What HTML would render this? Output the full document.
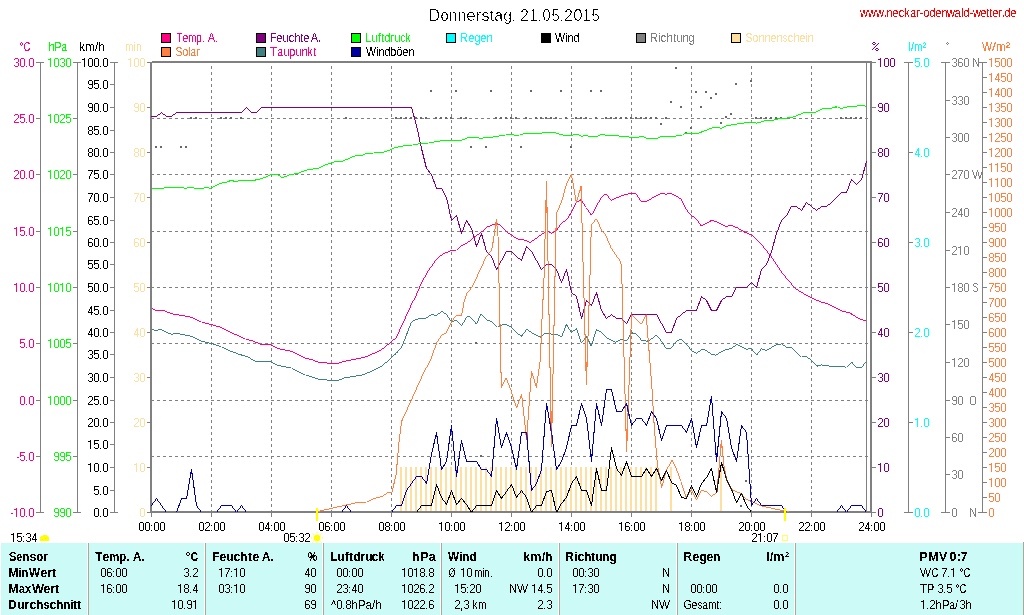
<!DOCTYPE html>
<html><head><meta charset="utf-8"><title>Donnerstag, 21.05.2015</title>
<style>html,body{margin:0;padding:0;background:#fff;overflow:hidden}svg{display:block;font-family:"Liberation Sans",sans-serif;font-size:12px}.c{shape-rendering:crispEdges}.l polyline{shape-rendering:crispEdges;stroke-linejoin:miter}</style>
</head><body>
<svg width="1024" height="615" viewBox="0 0 1024 615">
<rect width="1024" height="615" fill="#fff"/>
<filter id="tl" x="140" y="55" width="740" height="465" filterUnits="userSpaceOnUse" color-interpolation-filters="sRGB"><feComponentTransfer><feFuncA type="linear" slope="255" intercept="-124.95"/></feComponentTransfer></filter>
<g class="c">
<rect x="161" y="33" width="10" height="10" fill="#000"/>
<rect x="162" y="34" width="8" height="8" fill="#FF0080"/>
<rect x="161" y="47" width="10" height="10" fill="#000"/>
<rect x="162" y="48" width="8" height="8" fill="#FF8040"/>
<rect x="256" y="33" width="10" height="10" fill="#000"/>
<rect x="257" y="34" width="8" height="8" fill="#800080"/>
<rect x="256" y="47" width="10" height="10" fill="#000"/>
<rect x="257" y="48" width="8" height="8" fill="#408080"/>
<rect x="351" y="33" width="10" height="10" fill="#000"/>
<rect x="352" y="34" width="8" height="8" fill="#00FF00"/>
<rect x="351" y="47" width="10" height="10" fill="#000"/>
<rect x="352" y="48" width="8" height="8" fill="#0000A0"/>
<rect x="446" y="33" width="10" height="10" fill="#000"/>
<rect x="447" y="34" width="8" height="8" fill="#00FFFF"/>
<rect x="541" y="33" width="10" height="10" fill="#000"/>
<rect x="542" y="34" width="8" height="8" fill="#000000"/>
<rect x="636" y="33" width="10" height="10" fill="#000"/>
<rect x="637" y="34" width="8" height="8" fill="#808080"/>
<rect x="731" y="33" width="10" height="10" fill="#000"/>
<rect x="732" y="34" width="8" height="8" fill="#FFDF9F"/>
</g>
<g class="c">
<rect x="40" y="62" width="1" height="451" fill="#808080"/>
<rect x="36" y="62" width="8" height="1" fill="#808080"/>
<rect x="36" y="62" width="4" height="1" fill="#808080"/>
<rect x="36" y="118" width="4" height="1" fill="#808080"/>
<rect x="36" y="174" width="4" height="1" fill="#808080"/>
<rect x="36" y="231" width="4" height="1" fill="#808080"/>
<rect x="36" y="287" width="4" height="1" fill="#808080"/>
<rect x="36" y="343" width="4" height="1" fill="#808080"/>
<rect x="36" y="400" width="4" height="1" fill="#808080"/>
<rect x="36" y="456" width="4" height="1" fill="#808080"/>
<rect x="36" y="512" width="4" height="1" fill="#808080"/>
<rect x="77" y="62" width="1" height="451" fill="#808080"/>
<rect x="73" y="62" width="8" height="1" fill="#808080"/>
<rect x="73" y="62" width="4" height="1" fill="#808080"/>
<rect x="73" y="118" width="4" height="1" fill="#808080"/>
<rect x="73" y="174" width="4" height="1" fill="#808080"/>
<rect x="73" y="231" width="4" height="1" fill="#808080"/>
<rect x="73" y="287" width="4" height="1" fill="#808080"/>
<rect x="73" y="343" width="4" height="1" fill="#808080"/>
<rect x="73" y="400" width="4" height="1" fill="#808080"/>
<rect x="73" y="456" width="4" height="1" fill="#808080"/>
<rect x="73" y="512" width="4" height="1" fill="#808080"/>
<rect x="114" y="62" width="1" height="451" fill="#808080"/>
<rect x="110" y="62" width="8" height="1" fill="#808080"/>
<rect x="110" y="62" width="4" height="1" fill="#808080"/>
<rect x="110" y="84" width="4" height="1" fill="#808080"/>
<rect x="110" y="107" width="4" height="1" fill="#808080"/>
<rect x="110" y="130" width="4" height="1" fill="#808080"/>
<rect x="110" y="152" width="4" height="1" fill="#808080"/>
<rect x="110" y="174" width="4" height="1" fill="#808080"/>
<rect x="110" y="197" width="4" height="1" fill="#808080"/>
<rect x="110" y="220" width="4" height="1" fill="#808080"/>
<rect x="110" y="242" width="4" height="1" fill="#808080"/>
<rect x="110" y="264" width="4" height="1" fill="#808080"/>
<rect x="110" y="287" width="4" height="1" fill="#808080"/>
<rect x="110" y="310" width="4" height="1" fill="#808080"/>
<rect x="110" y="332" width="4" height="1" fill="#808080"/>
<rect x="110" y="354" width="4" height="1" fill="#808080"/>
<rect x="110" y="377" width="4" height="1" fill="#808080"/>
<rect x="110" y="400" width="4" height="1" fill="#808080"/>
<rect x="110" y="422" width="4" height="1" fill="#808080"/>
<rect x="110" y="444" width="4" height="1" fill="#808080"/>
<rect x="110" y="467" width="4" height="1" fill="#808080"/>
<rect x="110" y="490" width="4" height="1" fill="#808080"/>
<rect x="110" y="512" width="4" height="1" fill="#808080"/>
<rect x="36" y="512" width="8" height="1" fill="#808080"/>
<rect x="73" y="512" width="8" height="1" fill="#808080"/>
<rect x="110" y="512" width="8" height="1" fill="#808080"/>
<rect x="147" y="62" width="3" height="1" fill="#808080"/>
<rect x="147" y="107" width="3" height="1" fill="#808080"/>
<rect x="147" y="152" width="3" height="1" fill="#808080"/>
<rect x="147" y="197" width="3" height="1" fill="#808080"/>
<rect x="147" y="242" width="3" height="1" fill="#808080"/>
<rect x="147" y="287" width="3" height="1" fill="#808080"/>
<rect x="147" y="332" width="3" height="1" fill="#808080"/>
<rect x="147" y="377" width="3" height="1" fill="#808080"/>
<rect x="147" y="422" width="3" height="1" fill="#808080"/>
<rect x="147" y="467" width="3" height="1" fill="#808080"/>
<rect x="147" y="512" width="3" height="1" fill="#808080"/>
</g>
<g class="c">
<rect x="872" y="62" width="4" height="1" fill="#808080"/>
<rect x="872" y="107" width="4" height="1" fill="#808080"/>
<rect x="872" y="152" width="4" height="1" fill="#808080"/>
<rect x="872" y="197" width="4" height="1" fill="#808080"/>
<rect x="872" y="242" width="4" height="1" fill="#808080"/>
<rect x="872" y="287" width="4" height="1" fill="#808080"/>
<rect x="872" y="332" width="4" height="1" fill="#808080"/>
<rect x="872" y="377" width="4" height="1" fill="#808080"/>
<rect x="872" y="422" width="4" height="1" fill="#808080"/>
<rect x="872" y="467" width="4" height="1" fill="#808080"/>
<rect x="872" y="512" width="4" height="1" fill="#808080"/>
<rect x="908" y="62" width="1" height="451" fill="#808080"/>
<rect x="904" y="62" width="9" height="1" fill="#808080"/>
<rect x="908" y="62" width="5" height="1" fill="#808080"/>
<rect x="908" y="152" width="5" height="1" fill="#808080"/>
<rect x="908" y="242" width="5" height="1" fill="#808080"/>
<rect x="908" y="332" width="5" height="1" fill="#808080"/>
<rect x="908" y="422" width="5" height="1" fill="#808080"/>
<rect x="908" y="512" width="5" height="1" fill="#808080"/>
<rect x="945" y="62" width="1" height="451" fill="#808080"/>
<rect x="941" y="62" width="9" height="1" fill="#808080"/>
<rect x="945" y="62" width="5" height="1" fill="#808080"/>
<rect x="945" y="100" width="5" height="1" fill="#808080"/>
<rect x="945" y="137" width="5" height="1" fill="#808080"/>
<rect x="945" y="174" width="5" height="1" fill="#808080"/>
<rect x="945" y="212" width="5" height="1" fill="#808080"/>
<rect x="945" y="250" width="5" height="1" fill="#808080"/>
<rect x="945" y="287" width="5" height="1" fill="#808080"/>
<rect x="945" y="324" width="5" height="1" fill="#808080"/>
<rect x="945" y="362" width="5" height="1" fill="#808080"/>
<rect x="945" y="400" width="5" height="1" fill="#808080"/>
<rect x="945" y="437" width="5" height="1" fill="#808080"/>
<rect x="945" y="474" width="5" height="1" fill="#808080"/>
<rect x="945" y="512" width="5" height="1" fill="#808080"/>
<rect x="982" y="62" width="1" height="451" fill="#808080"/>
<rect x="978" y="62" width="9" height="1" fill="#808080"/>
<rect x="982" y="62" width="5" height="1" fill="#808080"/>
<rect x="982" y="77" width="5" height="1" fill="#808080"/>
<rect x="982" y="92" width="5" height="1" fill="#808080"/>
<rect x="982" y="107" width="5" height="1" fill="#808080"/>
<rect x="982" y="122" width="5" height="1" fill="#808080"/>
<rect x="982" y="137" width="5" height="1" fill="#808080"/>
<rect x="982" y="152" width="5" height="1" fill="#808080"/>
<rect x="982" y="167" width="5" height="1" fill="#808080"/>
<rect x="982" y="182" width="5" height="1" fill="#808080"/>
<rect x="982" y="197" width="5" height="1" fill="#808080"/>
<rect x="982" y="212" width="5" height="1" fill="#808080"/>
<rect x="982" y="227" width="5" height="1" fill="#808080"/>
<rect x="982" y="242" width="5" height="1" fill="#808080"/>
<rect x="982" y="257" width="5" height="1" fill="#808080"/>
<rect x="982" y="272" width="5" height="1" fill="#808080"/>
<rect x="982" y="287" width="5" height="1" fill="#808080"/>
<rect x="982" y="302" width="5" height="1" fill="#808080"/>
<rect x="982" y="317" width="5" height="1" fill="#808080"/>
<rect x="982" y="332" width="5" height="1" fill="#808080"/>
<rect x="982" y="347" width="5" height="1" fill="#808080"/>
<rect x="982" y="362" width="5" height="1" fill="#808080"/>
<rect x="982" y="377" width="5" height="1" fill="#808080"/>
<rect x="982" y="392" width="5" height="1" fill="#808080"/>
<rect x="982" y="407" width="5" height="1" fill="#808080"/>
<rect x="982" y="422" width="5" height="1" fill="#808080"/>
<rect x="982" y="437" width="5" height="1" fill="#808080"/>
<rect x="982" y="452" width="5" height="1" fill="#808080"/>
<rect x="982" y="467" width="5" height="1" fill="#808080"/>
<rect x="982" y="482" width="5" height="1" fill="#808080"/>
<rect x="982" y="497" width="5" height="1" fill="#808080"/>
<rect x="982" y="512" width="5" height="1" fill="#808080"/>
<rect x="904" y="512" width="9" height="1" fill="#808080"/>
<rect x="941" y="512" width="9" height="1" fill="#808080"/>
<rect x="978" y="512" width="9" height="1" fill="#808080"/>
</g>
<g class="c">
<line x1="151" y1="118.5" x2="870" y2="118.5" stroke="#808080" stroke-width="1" stroke-dasharray="3,3"/>
<line x1="151" y1="174.5" x2="870" y2="174.5" stroke="#808080" stroke-width="1" stroke-dasharray="3,3"/>
<line x1="151" y1="231.5" x2="870" y2="231.5" stroke="#808080" stroke-width="1" stroke-dasharray="3,3"/>
<line x1="151" y1="287.5" x2="870" y2="287.5" stroke="#808080" stroke-width="1" stroke-dasharray="3,3"/>
<line x1="151" y1="343.5" x2="870" y2="343.5" stroke="#808080" stroke-width="1" stroke-dasharray="3,3"/>
<line x1="151" y1="400.5" x2="870" y2="400.5" stroke="#808080" stroke-width="1" stroke-dasharray="3,3"/>
<line x1="151" y1="456.5" x2="870" y2="456.5" stroke="#808080" stroke-width="1" stroke-dasharray="3,3"/>
<line x1="211.5" y1="66" x2="211.5" y2="511" stroke="#808080" stroke-width="1" stroke-dasharray="3,3"/>
<line x1="271.5" y1="66" x2="271.5" y2="511" stroke="#808080" stroke-width="1" stroke-dasharray="3,3"/>
<line x1="331.5" y1="66" x2="331.5" y2="511" stroke="#808080" stroke-width="1" stroke-dasharray="3,3"/>
<line x1="391.5" y1="66" x2="391.5" y2="511" stroke="#808080" stroke-width="1" stroke-dasharray="3,3"/>
<line x1="451.5" y1="66" x2="451.5" y2="511" stroke="#808080" stroke-width="1" stroke-dasharray="3,3"/>
<line x1="511.5" y1="66" x2="511.5" y2="511" stroke="#808080" stroke-width="1" stroke-dasharray="3,3"/>
<line x1="571.5" y1="66" x2="571.5" y2="511" stroke="#808080" stroke-width="1" stroke-dasharray="3,3"/>
<line x1="631.5" y1="66" x2="631.5" y2="511" stroke="#808080" stroke-width="1" stroke-dasharray="3,3"/>
<line x1="691.5" y1="66" x2="691.5" y2="511" stroke="#808080" stroke-width="1" stroke-dasharray="3,3"/>
<line x1="751.5" y1="66" x2="751.5" y2="511" stroke="#808080" stroke-width="1" stroke-dasharray="3,3"/>
<line x1="811.5" y1="66" x2="811.5" y2="511" stroke="#808080" stroke-width="1" stroke-dasharray="3,3"/>
<rect x="400" y="467" width="2" height="44" fill="#FFDF9F"/>
<rect x="405" y="467" width="2" height="44" fill="#FFDF9F"/>
<rect x="410" y="467" width="2" height="44" fill="#FFDF9F"/>
<rect x="415" y="467" width="2" height="44" fill="#FFDF9F"/>
<rect x="420" y="467" width="2" height="44" fill="#FFDF9F"/>
<rect x="425" y="467" width="2" height="44" fill="#FFDF9F"/>
<rect x="430" y="467" width="2" height="44" fill="#FFDF9F"/>
<rect x="435" y="467" width="2" height="44" fill="#FFDF9F"/>
<rect x="440" y="467" width="2" height="44" fill="#FFDF9F"/>
<rect x="445" y="467" width="2" height="44" fill="#FFDF9F"/>
<rect x="450" y="467" width="2" height="44" fill="#FFDF9F"/>
<rect x="455" y="467" width="2" height="44" fill="#FFDF9F"/>
<rect x="460" y="467" width="2" height="44" fill="#FFDF9F"/>
<rect x="465" y="467" width="2" height="44" fill="#FFDF9F"/>
<rect x="470" y="467" width="2" height="44" fill="#FFDF9F"/>
<rect x="475" y="467" width="2" height="44" fill="#FFDF9F"/>
<rect x="480" y="467" width="2" height="44" fill="#FFDF9F"/>
<rect x="485" y="467" width="2" height="44" fill="#FFDF9F"/>
<rect x="490" y="467" width="2" height="44" fill="#FFDF9F"/>
<rect x="495" y="467" width="2" height="44" fill="#FFDF9F"/>
<rect x="500" y="467" width="2" height="44" fill="#FFDF9F"/>
<rect x="505" y="467" width="2" height="44" fill="#FFDF9F"/>
<rect x="510" y="467" width="2" height="44" fill="#FFDF9F"/>
<rect x="515" y="467" width="2" height="44" fill="#FFDF9F"/>
<rect x="520" y="467" width="2" height="44" fill="#FFDF9F"/>
<rect x="525" y="467" width="2" height="44" fill="#FFDF9F"/>
<rect x="530" y="467" width="2" height="44" fill="#FFDF9F"/>
<rect x="535" y="467" width="2" height="44" fill="#FFDF9F"/>
<rect x="540" y="467" width="2" height="44" fill="#FFDF9F"/>
<rect x="545" y="467" width="2" height="44" fill="#FFDF9F"/>
<rect x="550" y="467" width="2" height="44" fill="#FFDF9F"/>
<rect x="555" y="467" width="2" height="44" fill="#FFDF9F"/>
<rect x="560" y="467" width="2" height="44" fill="#FFDF9F"/>
<rect x="565" y="467" width="2" height="44" fill="#FFDF9F"/>
<rect x="570" y="467" width="2" height="44" fill="#FFDF9F"/>
<rect x="575" y="467" width="2" height="44" fill="#FFDF9F"/>
<rect x="580" y="467" width="2" height="44" fill="#FFDF9F"/>
<rect x="585" y="467" width="2" height="44" fill="#FFDF9F"/>
<rect x="590" y="467" width="2" height="44" fill="#FFDF9F"/>
<rect x="595" y="467" width="2" height="44" fill="#FFDF9F"/>
<rect x="600" y="467" width="2" height="44" fill="#FFDF9F"/>
<rect x="605" y="467" width="2" height="44" fill="#FFDF9F"/>
<rect x="610" y="467" width="2" height="44" fill="#FFDF9F"/>
<rect x="615" y="467" width="2" height="44" fill="#FFDF9F"/>
<rect x="620" y="467" width="2" height="44" fill="#FFDF9F"/>
<rect x="625" y="467" width="2" height="44" fill="#FFDF9F"/>
<rect x="630" y="467" width="2" height="44" fill="#FFDF9F"/>
<rect x="635" y="467" width="2" height="44" fill="#FFDF9F"/>
<rect x="640" y="467" width="2" height="44" fill="#FFDF9F"/>
<rect x="645" y="467" width="2" height="44" fill="#FFDF9F"/>
<rect x="650" y="467" width="2" height="44" fill="#FFDF9F"/>
<rect x="655" y="467" width="2" height="44" fill="#FFDF9F"/>
<rect x="670" y="467" width="2" height="44" fill="#FFDF9F"/>
<rect x="720" y="467" width="2" height="44" fill="#FFDF9F"/>
<rect x="155" y="146" width="2" height="2" fill="#686868"/>
<rect x="160" y="146" width="2" height="2" fill="#686868"/>
<rect x="180" y="146" width="2" height="2" fill="#686868"/>
<rect x="185" y="146" width="2" height="2" fill="#686868"/>
<rect x="470" y="146" width="2" height="2" fill="#686868"/>
<rect x="485" y="146" width="2" height="2" fill="#686868"/>
<rect x="520" y="146" width="2" height="2" fill="#686868"/>
<rect x="570" y="146" width="2" height="2" fill="#686868"/>
<rect x="430" y="90" width="2" height="2" fill="#686868"/>
<rect x="455" y="90" width="2" height="2" fill="#686868"/>
<rect x="490" y="90" width="2" height="2" fill="#686868"/>
<rect x="530" y="90" width="2" height="2" fill="#686868"/>
<rect x="560" y="90" width="2" height="2" fill="#686868"/>
<rect x="590" y="90" width="2" height="2" fill="#686868"/>
<rect x="600" y="90" width="2" height="2" fill="#686868"/>
<rect x="695" y="91" width="2" height="2" fill="#686868"/>
<rect x="705" y="91" width="2" height="2" fill="#686868"/>
<rect x="675" y="67" width="2" height="2" fill="#686868"/>
<rect x="670" y="101" width="2" height="2" fill="#686868"/>
<rect x="680" y="106" width="2" height="2" fill="#686868"/>
<rect x="660" y="123" width="2" height="2" fill="#686868"/>
<rect x="690" y="127" width="2" height="2" fill="#686868"/>
<rect x="685" y="132" width="2" height="2" fill="#686868"/>
<rect x="700" y="106" width="2" height="2" fill="#686868"/>
<rect x="710" y="97" width="2" height="2" fill="#686868"/>
<rect x="715" y="93" width="2" height="2" fill="#686868"/>
<rect x="735" y="83" width="2" height="2" fill="#686868"/>
<rect x="750" y="80" width="2" height="2" fill="#686868"/>
<rect x="720" y="122" width="2" height="2" fill="#686868"/>
<rect x="725" y="116" width="2" height="2" fill="#686868"/>
<rect x="730" y="113" width="2" height="2" fill="#686868"/>
<rect x="475" y="342" width="2" height="2" fill="#686868"/>
<rect x="480" y="455" width="2" height="2" fill="#686868"/>
<rect x="745" y="480" width="2" height="2" fill="#686868"/>
<rect x="740" y="505" width="2" height="2" fill="#686868"/>
<rect x="190" y="117" width="2" height="2" fill="#686868"/>
<rect x="195" y="117" width="2" height="2" fill="#686868"/>
<rect x="220" y="117" width="2" height="2" fill="#686868"/>
<rect x="225" y="117" width="2" height="2" fill="#686868"/>
<rect x="230" y="117" width="2" height="2" fill="#686868"/>
<rect x="240" y="117" width="2" height="2" fill="#686868"/>
<rect x="345" y="117" width="2" height="2" fill="#686868"/>
<rect x="395" y="117" width="2" height="2" fill="#686868"/>
<rect x="400" y="117" width="2" height="2" fill="#686868"/>
<rect x="405" y="117" width="2" height="2" fill="#686868"/>
<rect x="410" y="117" width="2" height="2" fill="#686868"/>
<rect x="415" y="117" width="2" height="2" fill="#686868"/>
<rect x="420" y="117" width="2" height="2" fill="#686868"/>
<rect x="425" y="117" width="2" height="2" fill="#686868"/>
<rect x="435" y="117" width="2" height="2" fill="#686868"/>
<rect x="440" y="117" width="2" height="2" fill="#686868"/>
<rect x="445" y="117" width="2" height="2" fill="#686868"/>
<rect x="450" y="117" width="2" height="2" fill="#686868"/>
<rect x="460" y="117" width="2" height="2" fill="#686868"/>
<rect x="465" y="117" width="2" height="2" fill="#686868"/>
<rect x="495" y="117" width="2" height="2" fill="#686868"/>
<rect x="500" y="117" width="2" height="2" fill="#686868"/>
<rect x="505" y="117" width="2" height="2" fill="#686868"/>
<rect x="510" y="117" width="2" height="2" fill="#686868"/>
<rect x="515" y="117" width="2" height="2" fill="#686868"/>
<rect x="525" y="117" width="2" height="2" fill="#686868"/>
<rect x="535" y="117" width="2" height="2" fill="#686868"/>
<rect x="540" y="117" width="2" height="2" fill="#686868"/>
<rect x="545" y="117" width="2" height="2" fill="#686868"/>
<rect x="550" y="117" width="2" height="2" fill="#686868"/>
<rect x="555" y="117" width="2" height="2" fill="#686868"/>
<rect x="565" y="117" width="2" height="2" fill="#686868"/>
<rect x="575" y="117" width="2" height="2" fill="#686868"/>
<rect x="580" y="117" width="2" height="2" fill="#686868"/>
<rect x="585" y="117" width="2" height="2" fill="#686868"/>
<rect x="595" y="117" width="2" height="2" fill="#686868"/>
<rect x="605" y="117" width="2" height="2" fill="#686868"/>
<rect x="610" y="117" width="2" height="2" fill="#686868"/>
<rect x="615" y="117" width="2" height="2" fill="#686868"/>
<rect x="620" y="117" width="2" height="2" fill="#686868"/>
<rect x="625" y="117" width="2" height="2" fill="#686868"/>
<rect x="630" y="117" width="2" height="2" fill="#686868"/>
<rect x="635" y="117" width="2" height="2" fill="#686868"/>
<rect x="640" y="117" width="2" height="2" fill="#686868"/>
<rect x="645" y="117" width="2" height="2" fill="#686868"/>
<rect x="650" y="117" width="2" height="2" fill="#686868"/>
<rect x="655" y="117" width="2" height="2" fill="#686868"/>
<rect x="665" y="117" width="2" height="2" fill="#686868"/>
<rect x="755" y="117" width="2" height="2" fill="#686868"/>
<rect x="760" y="117" width="2" height="2" fill="#686868"/>
<rect x="765" y="117" width="2" height="2" fill="#686868"/>
<rect x="770" y="117" width="2" height="2" fill="#686868"/>
<rect x="775" y="117" width="2" height="2" fill="#686868"/>
<rect x="780" y="117" width="2" height="2" fill="#686868"/>
<rect x="840" y="117" width="2" height="2" fill="#686868"/>
<rect x="845" y="117" width="2" height="2" fill="#686868"/>
<rect x="850" y="117" width="2" height="2" fill="#686868"/>
<rect x="855" y="117" width="2" height="2" fill="#686868"/>
<rect x="860" y="117" width="2" height="2" fill="#686868"/>
</g>
<g class="c">
<rect x="150" y="62" width="2" height="451" fill="#808080"/>
<rect x="152" y="61" width="720" height="2" fill="#808080"/>
<rect x="150" y="511" width="722" height="2" fill="#808080"/>
<rect x="866" y="63" width="1" height="448" fill="#808080"/>
<rect x="870" y="61" width="2" height="452" fill="#808080"/>
</g>
<clipPath id="cp"><rect x="151" y="63" width="719" height="449"/></clipPath>
<g clip-path="url(#cp)">
<g filter="url(#tl)" fill="none" stroke-width="1" stroke-linejoin="round">
<polyline points="151.5,116.5 156.5,116.5 161.5,112.5 166.5,116.5 171.5,116.5 176.5,112.5 181.5,112.5 186.5,112.5 191.5,112.5 196.5,112.5 201.5,112.5 206.5,112.5 211.5,112.5 216.5,112.5 221.5,112.5 226.5,112.5 231.5,112.5 236.5,112.5 241.5,112.5 246.5,107.5 251.5,112.5 256.5,112.5 261.5,107.5 266.5,107.5 271.5,107.5 276.5,107.5 281.5,107.5 286.5,107.5 291.5,107.5 296.5,107.5 301.5,107.5 306.5,107.5 311.5,107.5 316.5,107.5 321.5,107.5 326.5,107.5 331.5,107.5 336.5,107.5 341.5,107.5 346.5,107.5 351.5,107.5 356.5,107.5 361.5,107.5 366.5,107.5 371.5,107.5 376.5,107.5 381.5,107.5 386.5,107.5 391.5,107.5 396.5,107.5 401.5,107.5 406.5,107.5 411.5,107.5 416.5,125.5 421.5,148.5 426.5,168.5 431.5,174.5 436.5,188.5 441.5,188.5 446.5,197.5 451.5,220.5 456.5,215.5 461.5,233.5 466.5,220.5 471.5,228.5 476.5,246.5 481.5,233.5 486.5,251.5 491.5,256.5 496.5,269.5 501.5,260.5 506.5,251.5 511.5,251.5 516.5,256.5 521.5,260.5 526.5,246.5 531.5,251.5 536.5,260.5 541.5,269.5 546.5,264.5 551.5,264.5 556.5,269.5 561.5,282.5 566.5,269.5 571.5,292.5 576.5,296.5 581.5,318.5 586.5,300.5 591.5,305.5 596.5,292.5 601.5,310.5 606.5,318.5 611.5,314.5 616.5,318.5 621.5,318.5 626.5,323.5 631.5,314.5 636.5,314.5 641.5,314.5 646.5,314.5 651.5,314.5 656.5,314.5 661.5,323.5 666.5,332.5 671.5,332.5 676.5,318.5 681.5,314.5 686.5,310.5 691.5,310.5 696.5,310.5 701.5,296.5 706.5,300.5 711.5,310.5 716.5,310.5 721.5,300.5 726.5,296.5 731.5,296.5 736.5,287.5 741.5,287.5 746.5,287.5 751.5,282.5 756.5,287.5 761.5,269.5 766.5,264.5 771.5,251.5 776.5,233.5 781.5,220.5 786.5,215.5 791.5,206.5 796.5,206.5 801.5,210.5 806.5,202.5 811.5,206.5 816.5,210.5 821.5,206.5 826.5,206.5 831.5,202.5 836.5,197.5 841.5,192.5 846.5,192.5 851.5,179.5 856.5,184.5 861.5,179.5 866.5,161.5" fill="none" stroke="#800080" stroke-width="1"/>
<polyline points="151.6,188.4 163.3,188.4 164.8,187.3 182.8,187.3 185.2,188.4 189.8,187.3 192.5,187.3 195.3,188.4 203.1,188.4 205.5,187.3 208.0,187.3 210.2,188.4 212.5,187.3 220.3,183.4 226.6,182.2 230.5,180.6 232.5,180.6 235.2,181.7 239.8,180.6 253.1,180.6 262.5,178.3 271.9,174.4 277.3,174.4 282.0,177.5 286.7,176.4 290.6,174.4 296.9,173.6 300.0,172.5 307.8,169.8 318.8,168.1 326.6,164.4 335.9,161.3 342.2,161.3 356.3,155.3 362.5,155.3 365.6,153.4 373.4,153.0 383.6,152.2 389.0,150.3 395.3,147.5 404.7,145.6 412.5,145.0 420.3,143.6 428.1,143.1 435.9,141.6 443.9,140.4 461.9,140.2 466.6,138.1 470.5,137.3 477.5,137.3 480.6,138.6 485.3,137.3 493.1,137.0 499.4,135.9 505.6,135.0 511.0,134.1 515.0,135.5 519.7,135.0 525.2,133.4 540.0,133.3 545.5,132.3 553.3,132.3 560.3,134.4 565.0,135.5 572.0,135.5 575.2,134.4 577.5,134.4 581.4,136.4 586.1,135.5 590.0,136.4 597.0,136.4 601.0,134.4 603.4,134.4 605.6,135.5 618.1,135.5 620.5,136.4 627.5,136.4 630.6,137.5 638.4,137.2 640.8,136.4 643.0,136.4 646.3,138.3 657.2,138.3 661.1,136.4 674.4,136.4 677.5,135.5 682.2,135.2 685.3,133.3 697.8,133.3 700.0,132.6 711.1,128.2 717.1,127.3 721.4,128.4 725.6,126.1 734.2,124.4 751.3,121.9 756.4,123.2 765.8,120.5 773.5,120.2 780.3,118.5 788.9,117.9 794.0,116.7 804.3,112.5 816.2,112.1 823.9,108.2 831.6,108.2 835.0,107.0 837.6,107.0 841.0,108.5 849.5,106.5 856.4,106.2 860.7,105.3 863.2,105.3 865.8,106.5" fill="none" stroke="#00FF00" stroke-width="1"/>
<polyline points="151.8,308.5 155.7,310.4 164.5,310.8 171.4,313.7 191.9,317.3 201.6,322.1 211.4,324.7 221.2,327.4 231.0,332.5 245.6,339.1 252.4,340.7 260.2,344.2 270.0,344.6 277.8,348.5 291.5,351.4 305.2,358.3 311.0,359.4 318.8,362.2 330.5,363.3 338.4,363.3 345.0,361.2 354.8,359.2 364.5,357.3 372.3,354.0 381.1,350.1 389.0,343.6 396.2,337.8 401.6,326.0 411.4,304.6 416.3,295.1 422.1,281.5 429.0,269.8 436.8,259.0 442.7,254.1 451.4,250.6 456.3,250.2 462.2,245.3 468.0,242.4 473.9,237.5 481.7,231.7 487.6,226.8 496.4,223.5 501.3,225.8 506.1,231.7 511.0,234.6 516.9,238.9 522.7,239.5 530.5,242.4 544.2,232.6 546.5,231.0 551.8,233.3 556.7,230.4 561.6,223.1 566.5,219.8 571.4,212.4 576.3,202.6 581.1,199.7 586.0,207.5 591.5,215.3 596.8,205.6 601.6,196.8 605.9,193.9 611.4,200.3 621.2,195.8 631.0,193.3 635.8,193.3 641.1,201.3 646.6,201.3 656.3,195.8 661.8,193.3 666.0,194.2 671.0,193.3 680.7,198.7 685.6,208.5 691.0,215.3 696.4,218.7 701.3,226.0 712.0,220.2 720.8,223.7 725.7,226.5 731.5,225.1 738.4,228.4 745.0,232.3 751.4,234.8 761.1,244.1 771.3,256.8 781.6,272.4 792.4,285.1 795.3,288.7 807.0,295.5 820.7,302.0 826.6,303.3 842.2,311.2 850.0,313.1 859.8,319.0 866.0,320.9" fill="none" stroke="#FF0080" stroke-width="1"/>
<polyline points="151.8,329.4 155.7,330.5 160.6,329.4 171.4,334.4 176.3,333.3 191.9,336.4 201.6,341.3 211.4,343.6 221.2,346.9 231.0,351.4 240.7,354.8 246.6,356.3 255.4,361.2 269.0,361.2 277.8,365.5 291.5,368.0 305.2,374.9 318.8,379.2 330.5,380.3 338.4,380.3 345.0,377.8 354.8,376.2 362.6,374.9 372.3,371.0 381.1,366.5 389.0,360.2 396.2,353.4 401.6,347.5 406.5,334.8 411.4,322.1 416.3,319.2 426.0,318.2 431.9,314.3 436.4,315.7 441.7,311.4 446.6,314.3 451.4,322.1 456.3,320.2 461.6,326.0 467.0,316.3 471.0,317.3 476.3,324.1 481.3,313.7 486.6,320.2 491.5,321.5 497.3,327.0 502.2,324.7 506.1,324.7 511.0,326.6 515.9,332.5 521.8,336.2 526.6,329.4 531.5,332.5 540.3,337.2 545.0,333.0 552.8,334.4 556.7,334.4 561.6,336.7 566.5,324.2 571.4,332.8 576.3,328.5 581.5,343.1 586.4,336.3 591.3,346.1 596.4,329.5 601.6,332.4 606.5,337.9 615.3,342.2 622.1,339.2 626.6,341.2 631.5,332.8 636.4,333.8 641.7,340.6 648.5,341.2 656.3,335.3 661.6,341.2 666.5,349.0 671.4,348.0 676.3,341.2 681.1,339.2 686.6,344.1 691.5,351.0 696.4,353.3 702.2,349.4 706.1,350.4 711.0,353.9 715.9,355.3 720.8,351.9 725.7,349.6 730.9,348.7 736.7,344.4 746.5,349.2 751.4,348.7 756.6,355.1 761.5,348.7 766.0,350.6 776.8,344.4 781.6,344.0 786.5,347.3 791.4,347.3 801.6,357.1 806.0,356.1 811.0,360.0 816.8,366.2 821.7,364.9 830.5,366.2 842.2,366.2 846.1,367.4 851.6,362.0 856.3,367.4 861.7,367.4 866.0,361.4" fill="none" stroke="#408080" stroke-width="1"/>
<polyline points="317.5,511.5 345.0,505.3 354.8,503.0 366.5,502.0 374.3,498.5 382.1,496.6 387.0,493.0 391.9,492.7 396.2,474.0 398.7,444.8 401.6,421.4 411.4,400.0 423.1,373.9 430.9,359.2 436.8,342.6 441.1,335.8 446.2,332.9 451.4,322.1 456.3,315.3 461.6,315.3 464.1,301.6 467.1,292.8 472.0,287.3 485.6,258.0 491.5,250.2 493.4,240.5 496.4,219.0 498.0,236.5 498.7,269.8 499.3,296.0 500.3,336.8 501.3,387.6 506.1,377.8 511.0,390.5 516.5,408.0 521.6,394.4 526.6,440.0 531.5,371.0 536.4,387.6 540.3,360.2 542.3,311.4 543.8,286.0 546.5,181.0 551.5,447.0 556.3,214.0 561.6,201.7 566.5,184.0 571.4,174.0 576.3,202.6 581.1,186.0 582.5,243.7 586.4,385.0 590.3,266.0 591.3,225.0 596.4,218.7 601.6,230.0 606.0,235.8 611.4,248.5 620.2,261.2 621.5,266.0 626.6,452.0 631.5,314.8 641.1,324.2 646.2,314.8 651.8,386.0 654.4,429.0 657.3,464.0 661.6,487.6 666.5,470.0 672.0,460.2 676.8,470.0 681.1,481.7 686.0,497.3 691.5,489.5 696.4,500.3 701.3,490.5 706.1,491.5 711.6,496.4 716.9,492.4 721.4,439.7 723.7,464.0 726.6,479.8 731.5,489.5 737.4,492.4 741.3,493.4 745.0,498.3 751.4,501.5 761.1,505.8 771.9,508.3 781.6,510.3 789.5,511.6" fill="none" stroke="#FF8040" stroke-width="1"/>
<polyline points="151.5,505.5 156.5,498.5 161.5,505.5 166.5,512.5 171.5,512.5 176.5,512.5 181.5,498.5 186.5,498.5 191.5,469.5 196.5,505.5 201.5,512.5 206.5,512.5 211.5,512.5 216.5,512.5 221.5,505.5 226.5,505.5 231.5,505.5 236.5,512.5 241.5,505.5 246.5,512.5 251.5,512.5 256.5,512.5 261.5,512.5 266.5,512.5 271.5,512.5 276.5,512.5 281.5,512.5 286.5,512.5 291.5,512.5 296.5,512.5 301.5,512.5 306.5,512.5 311.5,512.5 316.5,512.5 321.5,512.5 326.5,512.5 331.5,512.5 336.5,512.5 341.5,512.5 346.5,505.5 351.5,512.5 356.5,512.5 361.5,512.5 366.5,512.5 371.5,512.5 376.5,512.5 381.5,512.5 386.5,512.5 391.5,512.5 396.5,505.5 401.5,505.5 406.5,490.5 411.5,483.5 416.5,476.5 421.5,476.5 426.5,483.5 431.5,454.5 436.5,432.5 441.5,469.5 446.5,461.5 451.5,425.5 456.5,476.5 461.5,440.5 466.5,461.5 471.5,461.5 476.5,461.5 481.5,469.5 486.5,469.5 491.5,476.5 496.5,418.5 501.5,447.5 506.5,432.5 511.5,447.5 516.5,469.5 521.5,432.5 526.5,432.5 531.5,490.5 536.5,483.5 541.5,469.5 546.5,403.5 551.5,432.5 556.5,469.5 561.5,461.5 566.5,447.5 571.5,425.5 576.5,425.5 581.5,403.5 586.5,418.5 591.5,461.5 596.5,403.5 601.5,425.5 606.5,389.5 611.5,389.5 616.5,411.5 621.5,411.5 626.5,403.5 631.5,425.5 636.5,418.5 641.5,418.5 646.5,425.5 651.5,411.5 656.5,418.5 661.5,440.5 666.5,425.5 671.5,425.5 676.5,425.5 681.5,425.5 686.5,432.5 691.5,418.5 696.5,447.5 701.5,425.5 706.5,425.5 711.5,396.5 716.5,461.5 721.5,411.5 726.5,418.5 731.5,447.5 736.5,461.5 741.5,425.5 746.5,432.5 751.5,505.5 756.5,498.5 761.5,505.5 766.5,505.5 771.5,505.5 776.5,505.5 781.5,505.5 786.5,512.5 791.5,512.5 796.5,512.5 801.5,512.5 806.5,512.5 811.5,512.5 816.5,512.5 821.5,512.5 826.5,512.5 831.5,512.5 836.5,512.5 841.5,505.5 846.5,512.5 851.5,505.5 856.5,505.5 861.5,505.5 866.5,512.5" fill="none" stroke="#0000A0" stroke-width="1"/>
<polyline points="416.5,512.5 421.5,505.5 426.5,505.5 431.5,505.5 436.5,484.5 441.5,497.5 446.5,504.5 451.5,490.5 456.5,504.5 461.5,498.5 466.5,504.5 471.5,512.5 476.5,505.5 481.5,505.5 486.5,505.5 491.5,505.5 496.5,490.5 501.5,498.5 506.5,491.5 511.5,484.5 516.5,497.5 521.5,490.5 526.5,497.5 531.5,512.5 536.5,505.5 541.5,505.5 546.5,491.5 551.5,490.5 556.5,512.5 561.5,503.5 566.5,497.5 571.5,483.5 576.5,476.5 581.5,490.5 586.5,490.5 591.5,505.5 596.5,468.5 601.5,490.5 606.5,490.5 611.5,447.5 616.5,468.5 621.5,475.5 626.5,461.5 631.5,476.5 636.5,476.5 641.5,476.5 646.5,468.5 651.5,476.5 656.5,468.5 661.5,480.5 666.5,470.5 671.5,482.5 676.5,485.5 681.5,497.5 686.5,498.5 691.5,485.5 696.5,496.5 701.5,483.5 706.5,477.5 711.5,468.5 716.5,492.5 721.5,462.5 726.5,479.5 731.5,489.5 736.5,502.5 741.5,493.5 746.5,505.5 751.5,512.5" fill="none" stroke="#000000" stroke-width="1"/>
</g>
</g>
<g class="c">
<rect x="151" y="513" width="1" height="4" fill="#808080"/>
<rect x="211" y="513" width="1" height="4" fill="#808080"/>
<rect x="271" y="513" width="1" height="4" fill="#808080"/>
<rect x="331" y="513" width="1" height="4" fill="#808080"/>
<rect x="391" y="513" width="1" height="4" fill="#808080"/>
<rect x="451" y="513" width="1" height="4" fill="#808080"/>
<rect x="511" y="513" width="1" height="4" fill="#808080"/>
<rect x="571" y="513" width="1" height="4" fill="#808080"/>
<rect x="631" y="513" width="1" height="4" fill="#808080"/>
<rect x="691" y="513" width="1" height="4" fill="#808080"/>
<rect x="751" y="513" width="1" height="4" fill="#808080"/>
<rect x="811" y="513" width="1" height="4" fill="#808080"/>
<rect x="871" y="513" width="1" height="4" fill="#808080"/>
<rect x="316" y="508" width="2" height="13" fill="#FFFF00"/>
<rect x="784" y="508" width="2" height="13" fill="#FFFF00"/>
</g>
<g class="c" fill="#FFFF00"><rect x="43" y="535" width="4" height="1"/><rect x="41" y="536" width="7" height="1"/><rect x="40" y="537" width="9" height="4"/><rect x="42" y="539" width="1" height="1" fill="#FFE040"/><rect x="45" y="538" width="1" height="1" fill="#FFE040"/></g>
<g class="c" fill="#FFFFC4"><rect x="314" y="534" width="6" height="1"/><rect x="314" y="541" width="6" height="1"/><rect x="313" y="535" width="1" height="6"/><rect x="320" y="535" width="1" height="6"/></g>
<g class="c" fill="#FFFF90"><rect x="313" y="534" width="1" height="1"/><rect x="320" y="534" width="1" height="1"/><rect x="313" y="541" width="1" height="1"/><rect x="320" y="541" width="1" height="1"/><rect x="316" y="532" width="2" height="1"/><rect x="316" y="542" width="2" height="1"/><rect x="311" y="537" width="1" height="2"/><rect x="322" y="537" width="1" height="2"/><rect x="312" y="533" width="1" height="1"/><rect x="321" y="533" width="1" height="1"/><rect x="312" y="542" width="1" height="1"/><rect x="321" y="542" width="1" height="1"/></g>
<g class="c" fill="#FFFF00"><rect x="314" y="536" width="6" height="4"/><rect x="315" y="535" width="4" height="6"/></g>
<rect class="c" x="782.5" y="535.5" width="5" height="5" fill="none" stroke="#FFFF60" stroke-width="1"/>
<g class="c">
<rect x="1" y="543" width="1022" height="72" fill="#CCFAF7"/>
<rect x="87" y="543" width="1" height="72" fill="#FFFFFF"/>
<rect x="88" y="543" width="1" height="72" fill="#ACA899"/>
<rect x="204" y="543" width="1" height="72" fill="#FFFFFF"/>
<rect x="205" y="543" width="1" height="72" fill="#ACA899"/>
<rect x="322" y="543" width="1" height="72" fill="#FFFFFF"/>
<rect x="323" y="543" width="1" height="72" fill="#ACA899"/>
<rect x="440" y="543" width="1" height="72" fill="#FFFFFF"/>
<rect x="441" y="543" width="1" height="72" fill="#ACA899"/>
<rect x="558" y="543" width="1" height="72" fill="#FFFFFF"/>
<rect x="559" y="543" width="1" height="72" fill="#ACA899"/>
<rect x="676" y="543" width="1" height="72" fill="#FFFFFF"/>
<rect x="677" y="543" width="1" height="72" fill="#ACA899"/>
<rect x="794" y="543" width="1" height="72" fill="#FFFFFF"/>
<rect x="795" y="543" width="1" height="72" fill="#ACA899"/>
<rect x="1023" y="542" width="1" height="73" fill="#ACA899"/>
</g>
<defs><filter id="t" x="0" y="0" width="1024" height="615" filterUnits="userSpaceOnUse" color-interpolation-filters="sRGB"><feComponentTransfer><feFuncA type="linear" slope="255" intercept="-119.85"/></feComponentTransfer></filter></defs>
<filter id="t2" x="400" y="0" width="230" height="30" filterUnits="userSpaceOnUse" color-interpolation-filters="sRGB"><feComponentTransfer><feFuncR type="linear" slope="255" intercept="-170"/><feFuncG type="linear" slope="255" intercept="-170"/><feFuncB type="linear" slope="255" intercept="-170"/><feFuncA type="linear" slope="255" intercept="-100"/></feComponentTransfer></filter>
<defs><path id="g0" d="M2,-9h3v1h-3zM2,-1h3v1h-3zM1,-8h1v7h-1zM5,-8h1v7h-1z"/><path id="g1" d="M1,-8h3v1h-3zM3,-9h1v1h-1zM3,-7h1v7h-1z"/><path id="g2" d="M2,-9h3v1h-3zM1,-1h5v1h-5zM1,-8h1v1h-1zM1,-2h1v1h-1zM2,-3h1v1h-1zM3,-4h1v1h-1zM4,-5h1v1h-1zM5,-8h1v3h-1z"/><path id="g3" d="M2,-9h3v1h-3zM3,-5h2v1h-2zM2,-1h3v1h-3zM1,-8h1v1h-1zM1,-2h1v1h-1zM5,-8h1v3h-1zM5,-4h1v3h-1z"/><path id="g4" d="M3,-8h2v1h-2zM3,-7h2v1h-2zM1,-3h5v1h-5zM1,-4h1v1h-1zM2,-6h1v2h-1zM4,-9h1v1h-1zM4,-6h1v3h-1zM4,-2h1v2h-1z"/><path id="g5" d="M1,-9h5v1h-5zM1,-6h4v1h-4zM2,-1h3v1h-3zM1,-8h1v2h-1zM1,-5h1v1h-1zM1,-2h1v1h-1zM5,-5h1v4h-1z"/><path id="g6" d="M2,-9h3v1h-3zM1,-5h4v1h-4zM2,-1h3v1h-3zM1,-8h1v3h-1zM1,-4h1v3h-1zM5,-8h1v1h-1zM5,-4h1v3h-1z"/><path id="g7" d="M1,-9h5v1h-5zM2,-3h1v3h-1zM3,-5h1v2h-1zM4,-7h1v2h-1zM5,-8h1v1h-1z"/><path id="g8" d="M2,-9h3v1h-3zM2,-5h3v1h-3zM2,-1h3v1h-3zM1,-8h1v3h-1zM1,-4h1v3h-1zM5,-8h1v3h-1zM5,-4h1v3h-1z"/><path id="g9" d="M2,-9h3v1h-3zM2,-5h4v1h-4zM2,-1h3v1h-3zM1,-8h1v3h-1zM1,-2h1v1h-1zM5,-8h1v3h-1zM5,-4h1v3h-1z"/><path id="gp" d="M1,-1h1v1h-1z"/><path id="gc" d="M1,-6h1v1h-1zM1,-1h1v1h-1z"/><path id="gm" d="M1,-4h2v1h-2z"/><path id="gk" d="M1,-1h1v3h-1z"/><path id="gq" d="M2,-9h2v1h-2zM2,-7h2v1h-2zM5,-3h2v1h-2zM5,-1h2v1h-2zM1,-8h1v1h-1zM1,-2h1v1h-1zM2,-3h1v1h-1zM3,-4h1v1h-1zM4,-8h1v1h-1zM4,-5h1v1h-1zM4,-2h1v1h-1zM5,-6h1v1h-1zM6,-7h1v1h-1zM7,-8h1v1h-1zM7,-2h1v1h-1z"/><path id="gd" d="M1,-8h1v1h-1zM2,-9h1v1h-1zM2,-7h1v1h-1zM3,-8h1v1h-1z"/><path id="gN" d="M1,-8h2v1h-2zM5,-3h2v1h-2zM5,-2h2v1h-2zM1,-9h1v1h-1zM1,-7h1v7h-1zM3,-7h1v2h-1zM4,-5h1v2h-1zM6,-9h1v6h-1zM6,-1h1v1h-1z"/><path id="gW" d="M2,-3h2v1h-2zM7,-3h2v1h-2zM2,-2h2v1h-2zM7,-2h2v1h-2zM0,-9h1v2h-1zM1,-7h1v3h-1zM2,-4h1v1h-1zM3,-1h1v1h-1zM4,-7h1v4h-1zM5,-9h1v2h-1zM6,-7h1v4h-1zM7,-1h1v1h-1zM8,-4h1v1h-1zM9,-7h1v3h-1zM10,-9h1v2h-1z"/><path id="gS" d="M2,-9h3v1h-3zM2,-6h2v1h-2zM2,-1h3v1h-3zM1,-8h1v2h-1zM1,-2h1v1h-1zM4,-5h1v1h-1zM5,-8h1v1h-1zM5,-4h1v3h-1z"/><path id="gO" d="M2,-9h4v1h-4zM2,-1h4v1h-4zM1,-8h1v7h-1zM6,-8h1v7h-1z"/></defs>
<g class="c">
<g fill="#FF0080" transform="translate(13,67)"><use href="#g3"/><use href="#g0" x="6"/><use href="#gp" x="12"/><use href="#g0" x="15"/></g>
<g fill="#00FF00" transform="translate(47,67)"><use href="#g1"/><use href="#g0" x="6"/><use href="#g3" x="12"/><use href="#g0" x="18"/></g>
<g fill="#FF0080" transform="translate(13,123)"><use href="#g2"/><use href="#g5" x="6"/><use href="#gp" x="12"/><use href="#g0" x="15"/></g>
<g fill="#00FF00" transform="translate(47,123)"><use href="#g1"/><use href="#g0" x="6"/><use href="#g2" x="12"/><use href="#g5" x="18"/></g>
<g fill="#FF0080" transform="translate(13,179)"><use href="#g2"/><use href="#g0" x="6"/><use href="#gp" x="12"/><use href="#g0" x="15"/></g>
<g fill="#00FF00" transform="translate(47,179)"><use href="#g1"/><use href="#g0" x="6"/><use href="#g2" x="12"/><use href="#g0" x="18"/></g>
<g fill="#FF0080" transform="translate(13,236)"><use href="#g1"/><use href="#g5" x="6"/><use href="#gp" x="12"/><use href="#g0" x="15"/></g>
<g fill="#00FF00" transform="translate(47,236)"><use href="#g1"/><use href="#g0" x="6"/><use href="#g1" x="12"/><use href="#g5" x="18"/></g>
<g fill="#FF0080" transform="translate(13,292)"><use href="#g1"/><use href="#g0" x="6"/><use href="#gp" x="12"/><use href="#g0" x="15"/></g>
<g fill="#00FF00" transform="translate(47,292)"><use href="#g1"/><use href="#g0" x="6"/><use href="#g1" x="12"/><use href="#g0" x="18"/></g>
<g fill="#FF0080" transform="translate(19,348)"><use href="#g5"/><use href="#gp" x="6"/><use href="#g0" x="9"/></g>
<g fill="#00FF00" transform="translate(47,348)"><use href="#g1"/><use href="#g0" x="6"/><use href="#g0" x="12"/><use href="#g5" x="18"/></g>
<g fill="#FF0080" transform="translate(19,405)"><use href="#g0"/><use href="#gp" x="6"/><use href="#g0" x="9"/></g>
<g fill="#00FF00" transform="translate(47,405)"><use href="#g1"/><use href="#g0" x="6"/><use href="#g0" x="12"/><use href="#g0" x="18"/></g>
<g fill="#FF0080" transform="translate(16,461)"><use href="#gm"/><use href="#g5" x="3"/><use href="#gp" x="9"/><use href="#g0" x="12"/></g>
<g fill="#00FF00" transform="translate(53,461)"><use href="#g9"/><use href="#g9" x="6"/><use href="#g5" x="12"/></g>
<g fill="#FF0080" transform="translate(10,517)"><use href="#gm"/><use href="#g1" x="3"/><use href="#g0" x="9"/><use href="#gp" x="15"/><use href="#g0" x="18"/></g>
<g fill="#00FF00" transform="translate(53,517)"><use href="#g9"/><use href="#g9" x="6"/><use href="#g0" x="12"/></g>
<g fill="#000000" transform="translate(81,67)"><use href="#g1"/><use href="#g0" x="6"/><use href="#g0" x="12"/><use href="#gp" x="18"/><use href="#g0" x="21"/></g>
<g fill="#000000" transform="translate(87,89)"><use href="#g9"/><use href="#g5" x="6"/><use href="#gp" x="12"/><use href="#g0" x="15"/></g>
<g fill="#000000" transform="translate(87,112)"><use href="#g9"/><use href="#g0" x="6"/><use href="#gp" x="12"/><use href="#g0" x="15"/></g>
<g fill="#000000" transform="translate(87,135)"><use href="#g8"/><use href="#g5" x="6"/><use href="#gp" x="12"/><use href="#g0" x="15"/></g>
<g fill="#000000" transform="translate(87,157)"><use href="#g8"/><use href="#g0" x="6"/><use href="#gp" x="12"/><use href="#g0" x="15"/></g>
<g fill="#000000" transform="translate(87,179)"><use href="#g7"/><use href="#g5" x="6"/><use href="#gp" x="12"/><use href="#g0" x="15"/></g>
<g fill="#000000" transform="translate(87,202)"><use href="#g7"/><use href="#g0" x="6"/><use href="#gp" x="12"/><use href="#g0" x="15"/></g>
<g fill="#000000" transform="translate(87,225)"><use href="#g6"/><use href="#g5" x="6"/><use href="#gp" x="12"/><use href="#g0" x="15"/></g>
<g fill="#000000" transform="translate(87,247)"><use href="#g6"/><use href="#g0" x="6"/><use href="#gp" x="12"/><use href="#g0" x="15"/></g>
<g fill="#000000" transform="translate(87,269)"><use href="#g5"/><use href="#g5" x="6"/><use href="#gp" x="12"/><use href="#g0" x="15"/></g>
<g fill="#000000" transform="translate(87,292)"><use href="#g5"/><use href="#g0" x="6"/><use href="#gp" x="12"/><use href="#g0" x="15"/></g>
<g fill="#000000" transform="translate(87,315)"><use href="#g4"/><use href="#g5" x="6"/><use href="#gp" x="12"/><use href="#g0" x="15"/></g>
<g fill="#000000" transform="translate(87,337)"><use href="#g4"/><use href="#g0" x="6"/><use href="#gp" x="12"/><use href="#g0" x="15"/></g>
<g fill="#000000" transform="translate(87,359)"><use href="#g3"/><use href="#g5" x="6"/><use href="#gp" x="12"/><use href="#g0" x="15"/></g>
<g fill="#000000" transform="translate(87,382)"><use href="#g3"/><use href="#g0" x="6"/><use href="#gp" x="12"/><use href="#g0" x="15"/></g>
<g fill="#000000" transform="translate(87,405)"><use href="#g2"/><use href="#g5" x="6"/><use href="#gp" x="12"/><use href="#g0" x="15"/></g>
<g fill="#000000" transform="translate(87,427)"><use href="#g2"/><use href="#g0" x="6"/><use href="#gp" x="12"/><use href="#g0" x="15"/></g>
<g fill="#000000" transform="translate(87,449)"><use href="#g1"/><use href="#g5" x="6"/><use href="#gp" x="12"/><use href="#g0" x="15"/></g>
<g fill="#000000" transform="translate(87,472)"><use href="#g1"/><use href="#g0" x="6"/><use href="#gp" x="12"/><use href="#g0" x="15"/></g>
<g fill="#000000" transform="translate(93,495)"><use href="#g5"/><use href="#gp" x="6"/><use href="#g0" x="9"/></g>
<g fill="#000000" transform="translate(93,517)"><use href="#g0"/><use href="#gp" x="6"/><use href="#g0" x="9"/></g>
<g fill="#FFDF9F" transform="translate(127,67)"><use href="#g1"/><use href="#g0" x="6"/><use href="#g0" x="12"/></g>
<g fill="#FFDF9F" transform="translate(133,112)"><use href="#g9"/><use href="#g0" x="6"/></g>
<g fill="#FFDF9F" transform="translate(133,157)"><use href="#g8"/><use href="#g0" x="6"/></g>
<g fill="#FFDF9F" transform="translate(133,202)"><use href="#g7"/><use href="#g0" x="6"/></g>
<g fill="#FFDF9F" transform="translate(133,247)"><use href="#g6"/><use href="#g0" x="6"/></g>
<g fill="#FFDF9F" transform="translate(133,292)"><use href="#g5"/><use href="#g0" x="6"/></g>
<g fill="#FFDF9F" transform="translate(133,337)"><use href="#g4"/><use href="#g0" x="6"/></g>
<g fill="#FFDF9F" transform="translate(133,382)"><use href="#g3"/><use href="#g0" x="6"/></g>
<g fill="#FFDF9F" transform="translate(133,427)"><use href="#g2"/><use href="#g0" x="6"/></g>
<g fill="#FFDF9F" transform="translate(133,472)"><use href="#g1"/><use href="#g0" x="6"/></g>
<g fill="#FFDF9F" transform="translate(139,517)"><use href="#g0"/></g>
<g fill="#800080" transform="translate(871,51)"><use href="#gq"/></g>
<g fill="#808080" transform="translate(945,51)"><use href="#gd"/></g>
<g fill="#800080" transform="translate(877,67)"><use href="#g1"/><use href="#g0" x="6"/><use href="#g0" x="12"/></g>
<g fill="#800080" transform="translate(877,112)"><use href="#g9"/><use href="#g0" x="6"/></g>
<g fill="#800080" transform="translate(877,157)"><use href="#g8"/><use href="#g0" x="6"/></g>
<g fill="#800080" transform="translate(877,202)"><use href="#g7"/><use href="#g0" x="6"/></g>
<g fill="#800080" transform="translate(877,247)"><use href="#g6"/><use href="#g0" x="6"/></g>
<g fill="#800080" transform="translate(877,292)"><use href="#g5"/><use href="#g0" x="6"/></g>
<g fill="#800080" transform="translate(877,337)"><use href="#g4"/><use href="#g0" x="6"/></g>
<g fill="#800080" transform="translate(877,382)"><use href="#g3"/><use href="#g0" x="6"/></g>
<g fill="#800080" transform="translate(877,427)"><use href="#g2"/><use href="#g0" x="6"/></g>
<g fill="#800080" transform="translate(877,472)"><use href="#g1"/><use href="#g0" x="6"/></g>
<g fill="#800080" transform="translate(877,517)"><use href="#g0"/></g>
<g fill="#00FFFF" transform="translate(914,67)"><use href="#g5"/><use href="#gp" x="6"/><use href="#g0" x="9"/></g>
<g fill="#00FFFF" transform="translate(914,157)"><use href="#g4"/><use href="#gp" x="6"/><use href="#g0" x="9"/></g>
<g fill="#00FFFF" transform="translate(914,247)"><use href="#g3"/><use href="#gp" x="6"/><use href="#g0" x="9"/></g>
<g fill="#00FFFF" transform="translate(914,337)"><use href="#g2"/><use href="#gp" x="6"/><use href="#g0" x="9"/></g>
<g fill="#00FFFF" transform="translate(914,427)"><use href="#g1"/><use href="#gp" x="6"/><use href="#g0" x="9"/></g>
<g fill="#00FFFF" transform="translate(914,517)"><use href="#g0"/><use href="#gp" x="6"/><use href="#g0" x="9"/></g>
<g fill="#808080" transform="translate(951,67)"><use href="#g3"/><use href="#g6" x="6"/><use href="#g0" x="12"/></g>
<g fill="#808080" transform="translate(972,67)"><use href="#gN"/></g>
<g fill="#808080" transform="translate(951,105)"><use href="#g3"/><use href="#g3" x="6"/><use href="#g0" x="12"/></g>
<g fill="#808080" transform="translate(951,142)"><use href="#g3"/><use href="#g0" x="6"/><use href="#g0" x="12"/></g>
<g fill="#808080" transform="translate(951,179)"><use href="#g2"/><use href="#g7" x="6"/><use href="#g0" x="12"/></g>
<g fill="#808080" transform="translate(972,179)"><use href="#gW"/></g>
<g fill="#808080" transform="translate(951,217)"><use href="#g2"/><use href="#g4" x="6"/><use href="#g0" x="12"/></g>
<g fill="#808080" transform="translate(951,255)"><use href="#g2"/><use href="#g1" x="6"/><use href="#g0" x="12"/></g>
<g fill="#808080" transform="translate(951,292)"><use href="#g1"/><use href="#g8" x="6"/><use href="#g0" x="12"/></g>
<g fill="#808080" transform="translate(972,292)"><use href="#gS"/></g>
<g fill="#808080" transform="translate(951,329)"><use href="#g1"/><use href="#g5" x="6"/><use href="#g0" x="12"/></g>
<g fill="#808080" transform="translate(951,367)"><use href="#g1"/><use href="#g2" x="6"/><use href="#g0" x="12"/></g>
<g fill="#808080" transform="translate(951,405)"><use href="#g9"/><use href="#g0" x="6"/></g>
<g fill="#808080" transform="translate(969,405)"><use href="#gO"/></g>
<g fill="#808080" transform="translate(951,442)"><use href="#g6"/><use href="#g0" x="6"/></g>
<g fill="#808080" transform="translate(951,479)"><use href="#g3"/><use href="#g0" x="6"/></g>
<g fill="#808080" transform="translate(951,517)"><use href="#g0"/></g>
<g fill="#808080" transform="translate(969,517)"><use href="#gN"/></g>
<g fill="#FF8040" transform="translate(988,67)"><use href="#g1"/><use href="#g5" x="6"/><use href="#g0" x="12"/><use href="#g0" x="18"/></g>
<g fill="#FF8040" transform="translate(988,82)"><use href="#g1"/><use href="#g4" x="6"/><use href="#g5" x="12"/><use href="#g0" x="18"/></g>
<g fill="#FF8040" transform="translate(988,97)"><use href="#g1"/><use href="#g4" x="6"/><use href="#g0" x="12"/><use href="#g0" x="18"/></g>
<g fill="#FF8040" transform="translate(988,112)"><use href="#g1"/><use href="#g3" x="6"/><use href="#g5" x="12"/><use href="#g0" x="18"/></g>
<g fill="#FF8040" transform="translate(988,127)"><use href="#g1"/><use href="#g3" x="6"/><use href="#g0" x="12"/><use href="#g0" x="18"/></g>
<g fill="#FF8040" transform="translate(988,142)"><use href="#g1"/><use href="#g2" x="6"/><use href="#g5" x="12"/><use href="#g0" x="18"/></g>
<g fill="#FF8040" transform="translate(988,157)"><use href="#g1"/><use href="#g2" x="6"/><use href="#g0" x="12"/><use href="#g0" x="18"/></g>
<g fill="#FF8040" transform="translate(988,172)"><use href="#g1"/><use href="#g1" x="6"/><use href="#g5" x="12"/><use href="#g0" x="18"/></g>
<g fill="#FF8040" transform="translate(988,187)"><use href="#g1"/><use href="#g1" x="6"/><use href="#g0" x="12"/><use href="#g0" x="18"/></g>
<g fill="#FF8040" transform="translate(988,202)"><use href="#g1"/><use href="#g0" x="6"/><use href="#g5" x="12"/><use href="#g0" x="18"/></g>
<g fill="#FF8040" transform="translate(988,217)"><use href="#g1"/><use href="#g0" x="6"/><use href="#g0" x="12"/><use href="#g0" x="18"/></g>
<g fill="#FF8040" transform="translate(988,232)"><use href="#g9"/><use href="#g5" x="6"/><use href="#g0" x="12"/></g>
<g fill="#FF8040" transform="translate(988,247)"><use href="#g9"/><use href="#g0" x="6"/><use href="#g0" x="12"/></g>
<g fill="#FF8040" transform="translate(988,262)"><use href="#g8"/><use href="#g5" x="6"/><use href="#g0" x="12"/></g>
<g fill="#FF8040" transform="translate(988,277)"><use href="#g8"/><use href="#g0" x="6"/><use href="#g0" x="12"/></g>
<g fill="#FF8040" transform="translate(988,292)"><use href="#g7"/><use href="#g5" x="6"/><use href="#g0" x="12"/></g>
<g fill="#FF8040" transform="translate(988,307)"><use href="#g7"/><use href="#g0" x="6"/><use href="#g0" x="12"/></g>
<g fill="#FF8040" transform="translate(988,322)"><use href="#g6"/><use href="#g5" x="6"/><use href="#g0" x="12"/></g>
<g fill="#FF8040" transform="translate(988,337)"><use href="#g6"/><use href="#g0" x="6"/><use href="#g0" x="12"/></g>
<g fill="#FF8040" transform="translate(988,352)"><use href="#g5"/><use href="#g5" x="6"/><use href="#g0" x="12"/></g>
<g fill="#FF8040" transform="translate(988,367)"><use href="#g5"/><use href="#g0" x="6"/><use href="#g0" x="12"/></g>
<g fill="#FF8040" transform="translate(988,382)"><use href="#g4"/><use href="#g5" x="6"/><use href="#g0" x="12"/></g>
<g fill="#FF8040" transform="translate(988,397)"><use href="#g4"/><use href="#g0" x="6"/><use href="#g0" x="12"/></g>
<g fill="#FF8040" transform="translate(988,412)"><use href="#g3"/><use href="#g5" x="6"/><use href="#g0" x="12"/></g>
<g fill="#FF8040" transform="translate(988,427)"><use href="#g3"/><use href="#g0" x="6"/><use href="#g0" x="12"/></g>
<g fill="#FF8040" transform="translate(988,442)"><use href="#g2"/><use href="#g5" x="6"/><use href="#g0" x="12"/></g>
<g fill="#FF8040" transform="translate(988,457)"><use href="#g2"/><use href="#g0" x="6"/><use href="#g0" x="12"/></g>
<g fill="#FF8040" transform="translate(988,472)"><use href="#g1"/><use href="#g5" x="6"/><use href="#g0" x="12"/></g>
<g fill="#FF8040" transform="translate(988,487)"><use href="#g1"/><use href="#g0" x="6"/><use href="#g0" x="12"/></g>
<g fill="#FF8040" transform="translate(988,502)"><use href="#g5"/><use href="#g0" x="6"/></g>
<g fill="#FF8040" transform="translate(988,517)"><use href="#g0"/></g>
<g fill="#000000" transform="translate(138,531)"><use href="#g0"/><use href="#g0" x="6"/><use href="#gc" x="12"/><use href="#g0" x="15"/><use href="#g0" x="21"/></g>
<g fill="#000000" transform="translate(198,531)"><use href="#g0"/><use href="#g2" x="6"/><use href="#gc" x="12"/><use href="#g0" x="15"/><use href="#g0" x="21"/></g>
<g fill="#000000" transform="translate(258,531)"><use href="#g0"/><use href="#g4" x="6"/><use href="#gc" x="12"/><use href="#g0" x="15"/><use href="#g0" x="21"/></g>
<g fill="#000000" transform="translate(318,531)"><use href="#g0"/><use href="#g6" x="6"/><use href="#gc" x="12"/><use href="#g0" x="15"/><use href="#g0" x="21"/></g>
<g fill="#000000" transform="translate(378,531)"><use href="#g0"/><use href="#g8" x="6"/><use href="#gc" x="12"/><use href="#g0" x="15"/><use href="#g0" x="21"/></g>
<g fill="#000000" transform="translate(438,531)"><use href="#g1"/><use href="#g0" x="6"/><use href="#gc" x="12"/><use href="#g0" x="15"/><use href="#g0" x="21"/></g>
<g fill="#000000" transform="translate(498,531)"><use href="#g1"/><use href="#g2" x="6"/><use href="#gc" x="12"/><use href="#g0" x="15"/><use href="#g0" x="21"/></g>
<g fill="#000000" transform="translate(558,531)"><use href="#g1"/><use href="#g4" x="6"/><use href="#gc" x="12"/><use href="#g0" x="15"/><use href="#g0" x="21"/></g>
<g fill="#000000" transform="translate(618,531)"><use href="#g1"/><use href="#g6" x="6"/><use href="#gc" x="12"/><use href="#g0" x="15"/><use href="#g0" x="21"/></g>
<g fill="#000000" transform="translate(678,531)"><use href="#g1"/><use href="#g8" x="6"/><use href="#gc" x="12"/><use href="#g0" x="15"/><use href="#g0" x="21"/></g>
<g fill="#000000" transform="translate(738,531)"><use href="#g2"/><use href="#g0" x="6"/><use href="#gc" x="12"/><use href="#g0" x="15"/><use href="#g0" x="21"/></g>
<g fill="#000000" transform="translate(798,531)"><use href="#g2"/><use href="#g2" x="6"/><use href="#gc" x="12"/><use href="#g0" x="15"/><use href="#g0" x="21"/></g>
<g fill="#000000" transform="translate(858,531)"><use href="#g2"/><use href="#g4" x="6"/><use href="#gc" x="12"/><use href="#g0" x="15"/><use href="#g0" x="21"/></g>
<g fill="#000000" transform="translate(10,542)"><use href="#g1"/><use href="#g5" x="6"/><use href="#gc" x="12"/><use href="#g3" x="15"/><use href="#g4" x="21"/></g>
<g fill="#000000" transform="translate(283,542)"><use href="#g0"/><use href="#g5" x="6"/><use href="#gc" x="12"/><use href="#g3" x="15"/><use href="#g2" x="21"/></g>
<g fill="#000000" transform="translate(751,542)"><use href="#g2"/><use href="#g1" x="6"/><use href="#gc" x="12"/><use href="#g0" x="15"/><use href="#g7" x="21"/></g>
<g fill="#000000" transform="translate(100,577)"><use href="#g0"/><use href="#g6" x="6"/><use href="#gc" x="12"/><use href="#g0" x="15"/><use href="#g0" x="21"/></g>
<g fill="#000000" transform="translate(183,577)"><use href="#g3"/><use href="#gp" x="6"/><use href="#g2" x="9"/></g>
<g fill="#000000" transform="translate(100,593)"><use href="#g1"/><use href="#g6" x="6"/><use href="#gc" x="12"/><use href="#g0" x="15"/><use href="#g0" x="21"/></g>
<g fill="#000000" transform="translate(177,593)"><use href="#g1"/><use href="#g8" x="6"/><use href="#gp" x="12"/><use href="#g4" x="15"/></g>
<g fill="#000000" transform="translate(171,609)"><use href="#g1"/><use href="#g0" x="6"/><use href="#gp" x="12"/><use href="#g9" x="15"/><use href="#g1" x="21"/></g>
<g fill="#000000" transform="translate(218,577)"><use href="#g1"/><use href="#g7" x="6"/><use href="#gc" x="12"/><use href="#g1" x="15"/><use href="#g0" x="21"/></g>
<g fill="#000000" transform="translate(304,577)"><use href="#g4"/><use href="#g0" x="6"/></g>
<g fill="#000000" transform="translate(218,593)"><use href="#g0"/><use href="#g3" x="6"/><use href="#gc" x="12"/><use href="#g1" x="15"/><use href="#g0" x="21"/></g>
<g fill="#000000" transform="translate(304,593)"><use href="#g9"/><use href="#g0" x="6"/></g>
<g fill="#000000" transform="translate(304,609)"><use href="#g6"/><use href="#g9" x="6"/></g>
<g fill="#000000" transform="translate(336,577)"><use href="#g0"/><use href="#g0" x="6"/><use href="#gc" x="12"/><use href="#g0" x="15"/><use href="#g0" x="21"/></g>
<g fill="#000000" transform="translate(401,577)"><use href="#g1"/><use href="#g0" x="6"/><use href="#g1" x="12"/><use href="#g8" x="18"/><use href="#gp" x="24"/><use href="#g8" x="27"/></g>
<g fill="#000000" transform="translate(336,593)"><use href="#g2"/><use href="#g3" x="6"/><use href="#gc" x="12"/><use href="#g4" x="15"/><use href="#g0" x="21"/></g>
<g fill="#000000" transform="translate(401,593)"><use href="#g1"/><use href="#g0" x="6"/><use href="#g2" x="12"/><use href="#g6" x="18"/><use href="#gp" x="24"/><use href="#g2" x="27"/></g>
<g fill="#000000" transform="translate(336,609)"><use href="#g0"/><use href="#gp" x="6"/><use href="#g8" x="9"/></g>
<g fill="#000000" transform="translate(401,609)"><use href="#g1"/><use href="#g0" x="6"/><use href="#g2" x="12"/><use href="#g2" x="18"/><use href="#gp" x="24"/><use href="#g6" x="27"/></g>
<g fill="#000000" transform="translate(460,577)"><use href="#g1"/><use href="#g0" x="6"/></g>
<g fill="#000000" transform="translate(537,577)"><use href="#g0"/><use href="#gp" x="6"/><use href="#g0" x="9"/></g>
<g fill="#000000" transform="translate(454,593)"><use href="#g1"/><use href="#g5" x="6"/><use href="#gc" x="12"/><use href="#g2" x="15"/><use href="#g0" x="21"/></g>
<g fill="#000000" transform="translate(509,593)"><use href="#gN"/><use href="#gW" x="8"/></g>
<g fill="#000000" transform="translate(531,593)"><use href="#g1"/><use href="#g4" x="6"/><use href="#gp" x="12"/><use href="#g5" x="15"/></g>
<g fill="#000000" transform="translate(454,609)"><use href="#g2"/><use href="#gk" x="6"/><use href="#g3" x="9"/></g>
<g fill="#000000" transform="translate(537,609)"><use href="#g2"/><use href="#gp" x="6"/><use href="#g3" x="9"/></g>
<g fill="#000000" transform="translate(572,577)"><use href="#g0"/><use href="#g0" x="6"/><use href="#gc" x="12"/><use href="#g3" x="15"/><use href="#g0" x="21"/></g>
<g fill="#000000" transform="translate(662,577)"><use href="#gN"/></g>
<g fill="#000000" transform="translate(572,593)"><use href="#g1"/><use href="#g7" x="6"/><use href="#gc" x="12"/><use href="#g3" x="15"/><use href="#g0" x="21"/></g>
<g fill="#000000" transform="translate(662,593)"><use href="#gN"/></g>
<g fill="#000000" transform="translate(651,609)"><use href="#gN"/><use href="#gW" x="8"/></g>
<g fill="#000000" transform="translate(690,593)"><use href="#g0"/><use href="#g0" x="6"/><use href="#gc" x="12"/><use href="#g0" x="15"/><use href="#g0" x="21"/></g>
<g fill="#000000" transform="translate(773,593)"><use href="#g0"/><use href="#gp" x="6"/><use href="#g0" x="9"/></g>
<g fill="#000000" transform="translate(773,609)"><use href="#g0"/><use href="#gp" x="6"/><use href="#g0" x="9"/></g>
<g fill="#000000" transform="translate(920,577)"><use href="#gW"/></g>
<g fill="#000000" transform="translate(941,577)"><use href="#g7"/><use href="#gp" x="6"/><use href="#g1" x="9"/></g>
<g fill="#000000" transform="translate(937,593)"><use href="#g3"/><use href="#gp" x="6"/><use href="#g5" x="9"/></g>
<g fill="#000000" transform="translate(920,609)"><use href="#g1"/><use href="#gp" x="6"/><use href="#g2" x="9"/></g>
<g fill="#000000" transform="translate(959,609)"><use href="#g3"/></g>
</g>
<g filter="url(#t)">
<g fill="#FF0000"><text transform="translate(860.02,17) scale(0.918,1.09)">w</text><text transform="translate(868.02,17) scale(0.918,1.09)">w</text><text transform="translate(876.02,17) scale(0.918,1.09)">w</text><text transform="translate(884.02,17) scale(0.892,1.09)">.</text><text transform="translate(886.17,17) scale(1.000,1.09)">n</text><text transform="translate(892.55,17) scale(0.888,1.09)">e</text><text transform="translate(898.51,17) scale(0.966,1.09)">c</text><text transform="translate(904.28,17) scale(0.892,1.09)">k</text><text transform="translate(910.59,17) scale(0.811,1.09)">a</text><text transform="translate(916.26,17) scale(0.892,1.09)">r</text><text transform="translate(919.52,17) scale(0.892,1.09)">-</text><text transform="translate(923.56,17) scale(0.882,1.09)">o</text><text transform="translate(929.53,17) scale(0.927,1.09)">d</text><text transform="translate(935.55,17) scale(0.888,1.09)">e</text><text transform="translate(941.17,17) scale(1.000,1.09)">n</text><text transform="translate(947.02,17) scale(0.918,1.09)">w</text><text transform="translate(954.50,17) scale(0.973,1.09)">a</text><text transform="translate(961.28,17) scale(0.892,1.09)">l</text><text transform="translate(963.53,17) scale(0.927,1.09)">d</text><text transform="translate(969.52,17) scale(0.892,1.09)">-</text><text transform="translate(973.02,17) scale(0.918,1.09)">w</text><text transform="translate(980.55,17) scale(0.888,1.09)">e</text><text transform="translate(986.18,17) scale(0.892,1.09)">t</text><text transform="translate(989.18,17) scale(0.892,1.09)">t</text><text transform="translate(992.55,17) scale(0.888,1.09)">e</text><text transform="translate(998.26,17) scale(0.892,1.09)">r</text><text transform="translate(1002.02,17) scale(0.892,1.09)">.</text><text transform="translate(1004.53,17) scale(0.927,1.09)">d</text><text transform="translate(1010.55,17) scale(0.888,1.09)">e</text></g>
<g fill="#FF0080"><text transform="translate(176.38,42) scale(0.842,1.09)">T</text><text transform="translate(182.55,42) scale(0.888,1.09)">e</text><text transform="translate(188.32,42) scale(0.819,1.09)">m</text><text transform="translate(196.32,42) scale(0.842,1.09)">p</text><text transform="translate(202.08,42) scale(0.842,1.09)">.</text><text transform="translate(207.98,42) scale(0.880,1.09)">A</text><text transform="translate(215.08,42) scale(0.842,1.09)">.</text></g>
<g fill="#FF8040"><text transform="translate(175.53,56) scale(0.869,1.09)">S</text><text transform="translate(182.56,56) scale(0.882,1.09)">o</text><text transform="translate(188.31,56) scale(0.853,1.09)">l</text><text transform="translate(190.59,56) scale(0.811,1.09)">a</text><text transform="translate(196.29,56) scale(0.853,1.09)">r</text></g>
<g fill="#800080"><text transform="translate(270.14,42) scale(0.875,1.09)">F</text><text transform="translate(276.55,42) scale(0.888,1.09)">e</text><text transform="translate(282.22,42) scale(0.998,1.09)">u</text><text transform="translate(288.51,42) scale(0.966,1.09)">c</text><text transform="translate(294.17,42) scale(1.000,1.09)">h</text><text transform="translate(300.20,42) scale(0.875,1.09)">t</text><text transform="translate(303.55,42) scale(0.888,1.09)">e</text><text transform="translate(310.98,42) scale(0.880,1.09)">A</text><text transform="translate(318.04,42) scale(0.875,1.09)">.</text></g>
<g fill="#FF0080"><text transform="translate(270.16,56) scale(0.913,1.09)">T</text><text transform="translate(277.59,56) scale(0.811,1.09)">a</text><text transform="translate(283.22,56) scale(0.998,1.09)">u</text><text transform="translate(289.26,56) scale(0.913,1.09)">p</text><text transform="translate(295.22,56) scale(0.998,1.09)">u</text><text transform="translate(301.17,56) scale(1.000,1.09)">n</text><text transform="translate(307.26,56) scale(0.913,1.09)">k</text><text transform="translate(313.17,56) scale(0.913,1.09)">t</text></g>
<g fill="#00FF00"><text transform="translate(365.11,42) scale(0.904,1.09)">L</text><text transform="translate(371.22,42) scale(0.998,1.09)">u</text><text transform="translate(378.04,42) scale(0.904,1.09)">f</text><text transform="translate(381.17,42) scale(0.904,1.09)">t</text><text transform="translate(384.53,42) scale(0.927,1.09)">d</text><text transform="translate(390.25,42) scale(0.904,1.09)">r</text><text transform="translate(394.22,42) scale(0.998,1.09)">u</text><text transform="translate(400.61,42) scale(0.773,1.09)">c</text><text transform="translate(405.27,42) scale(0.904,1.09)">k</text></g>
<g fill="#000000"><text transform="translate(365.95,56) scale(0.890,1.09)">W</text><text transform="translate(376.27,56) scale(0.907,1.09)">i</text><text transform="translate(378.17,56) scale(1.000,1.09)">n</text><text transform="translate(384.53,56) scale(0.927,1.09)">d</text><text transform="translate(390.27,56) scale(0.907,1.09)">b</text><text transform="translate(396.56,56) scale(0.882,1.09)">ö</text><text transform="translate(402.55,56) scale(0.888,1.09)">e</text><text transform="translate(408.17,56) scale(1.000,1.09)">n</text></g>
<g fill="#00FFFF"><text transform="translate(460.11,42) scale(0.908,1.09)">R</text><text transform="translate(468.55,42) scale(0.888,1.09)">e</text><text transform="translate(474.53,42) scale(0.927,1.09)">g</text><text transform="translate(480.55,42) scale(0.888,1.09)">e</text><text transform="translate(486.17,42) scale(1.000,1.09)">n</text></g>
<g fill="#000000"><text transform="translate(554.95,42) scale(0.890,1.09)">W</text><text transform="translate(565.25,42) scale(0.933,1.09)">i</text><text transform="translate(567.17,42) scale(1.000,1.09)">n</text><text transform="translate(573.53,42) scale(0.927,1.09)">d</text></g>
<g fill="#808080"><text transform="translate(650.10,42) scale(0.912,1.09)">R</text><text transform="translate(658.27,42) scale(0.912,1.09)">i</text><text transform="translate(660.51,42) scale(0.966,1.09)">c</text><text transform="translate(666.17,42) scale(1.000,1.09)">h</text><text transform="translate(673.17,42) scale(0.912,1.09)">t</text><text transform="translate(676.22,42) scale(0.998,1.09)">u</text><text transform="translate(682.17,42) scale(1.000,1.09)">n</text><text transform="translate(688.53,42) scale(0.927,1.09)">g</text></g>
<g fill="#FFDF9F"><text transform="translate(745.53,42) scale(0.869,1.09)">S</text><text transform="translate(752.56,42) scale(0.882,1.09)">o</text><text transform="translate(758.17,42) scale(1.000,1.09)">n</text><text transform="translate(764.17,42) scale(1.000,1.09)">n</text><text transform="translate(770.55,42) scale(0.888,1.09)">e</text><text transform="translate(776.17,42) scale(1.000,1.09)">n</text><text transform="translate(782.74,42) scale(0.764,1.09)">s</text><text transform="translate(787.51,42) scale(0.966,1.09)">c</text><text transform="translate(793.17,42) scale(1.000,1.09)">h</text><text transform="translate(799.55,42) scale(0.888,1.09)">e</text><text transform="translate(805.28,42) scale(0.891,1.09)">i</text><text transform="translate(807.17,42) scale(1.000,1.09)">n</text></g>
<g fill="#FF0080"><text transform="translate(19.45,51) scale(0.772,1.09)">°</text><text transform="translate(23.52,51) scale(0.790,1.09)">C</text></g>
<g fill="#00FF00"><text transform="translate(48.17,51) scale(1.000,1.09)">h</text><text transform="translate(54.13,51) scale(0.885,1.09)">P</text><text transform="translate(61.59,51) scale(0.811,1.09)">a</text></g>
<g fill="#000000"><text transform="translate(79.23,51) scale(0.950,1.09)">k</text><text transform="translate(85.21,51) scale(0.955,1.09)">m</text><text transform="translate(95.00,51) scale(0.950,1.09)">/</text><text transform="translate(98.17,51) scale(1.000,1.09)">h</text></g>
<g fill="#FFDF9F"><text transform="translate(125.32,51) scale(0.819,1.09)">m</text><text transform="translate(133.34,51) scale(0.822,1.09)">i</text><text transform="translate(136.38,51) scale(0.750,1.09)">n</text></g>
<g fill="#00FFFF"><text transform="translate(908.28,51) scale(0.885,1.09)">l</text><text transform="translate(911.00,51) scale(0.885,1.09)">/</text><text transform="translate(914.32,51) scale(0.819,1.09)">m</text><text transform="translate(922.79,51) scale(0.885,1.09)">²</text></g>
<g fill="#FF8040"><text transform="translate(981.95,51) scale(0.890,1.09)">W</text><text transform="translate(992.00,51) scale(1.200,1.09)">/</text><text transform="translate(996.21,51) scale(0.955,1.09)">m</text><text transform="translate(1005.73,51) scale(1.134,1.09)">²</text></g>
<g fill="#000000" font-weight="bold"><text transform="translate(8.66,561) scale(0.974,1.09)">S</text><text transform="translate(16.60,561) scale(0.863,1.09)">e</text><text transform="translate(22.18,561) scale(0.974,1.09)">n</text><text transform="translate(29.56,561) scale(1.042,1.09)">s</text><text transform="translate(36.56,561) scale(0.939,1.09)">o</text><text transform="translate(43.19,561) scale(0.961,1.09)">r</text></g>
<g fill="#000000" font-weight="bold"><text transform="translate(8.18,577) scale(1.021,1.09)">M</text><text transform="translate(18.18,577) scale(0.976,1.09)">i</text><text transform="translate(21.18,577) scale(0.974,1.09)">n</text><text transform="translate(28.99,577) scale(0.973,1.09)">W</text><text transform="translate(40.51,577) scale(1.035,1.09)">e</text><text transform="translate(47.18,577) scale(0.976,1.09)">r</text><text transform="translate(52.07,577) scale(0.976,1.09)">t</text></g>
<g fill="#000000" font-weight="bold"><text transform="translate(8.18,593) scale(1.021,1.09)">M</text><text transform="translate(18.67,593) scale(0.938,1.09)">a</text><text transform="translate(24.92,593) scale(0.923,1.09)">x</text><text transform="translate(31.99,593) scale(1.062,1.09)">W</text><text transform="translate(43.51,593) scale(1.035,1.09)">e</text><text transform="translate(50.18,593) scale(0.984,1.09)">r</text><text transform="translate(55.07,593) scale(0.984,1.09)">t</text></g>
<g fill="#000000" font-weight="bold"><text transform="translate(8.22,609) scale(0.973,1.09)">D</text><text transform="translate(17.27,609) scale(0.975,1.09)">u</text><text transform="translate(24.18,609) scale(0.973,1.09)">r</text><text transform="translate(29.52,609) scale(1.025,1.09)">c</text><text transform="translate(36.18,609) scale(0.974,1.09)">h</text><text transform="translate(43.63,609) scale(0.868,1.09)">s</text><text transform="translate(49.52,609) scale(1.025,1.09)">c</text><text transform="translate(56.18,609) scale(0.974,1.09)">h</text><text transform="translate(63.18,609) scale(0.974,1.09)">n</text><text transform="translate(70.18,609) scale(0.973,1.09)">i</text><text transform="translate(73.08,609) scale(0.973,1.09)">t</text><text transform="translate(77.08,609) scale(0.973,1.09)">t</text></g>
<g fill="#000000" font-weight="bold"><text transform="translate(95.30,561) scale(0.965,1.09)">T</text><text transform="translate(102.51,561) scale(1.035,1.09)">e</text><text transform="translate(109.21,561) scale(0.939,1.09)">m</text><text transform="translate(119.19,561) scale(0.965,1.09)">p</text><text transform="translate(126.21,561) scale(0.965,1.09)">.</text><text transform="translate(132.70,561) scale(0.994,1.09)">A</text><text transform="translate(141.21,561) scale(0.965,1.09)">.</text></g>
<g fill="#000000" font-weight="bold"><text transform="translate(185.44,561) scale(1.065,1.09)">°</text><text transform="translate(190.56,561) scale(0.892,1.09)">C</text></g>
<g fill="#000000" font-weight="bold"><text transform="translate(212.20,561) scale(0.999,1.09)">F</text><text transform="translate(219.51,561) scale(1.035,1.09)">e</text><text transform="translate(226.27,561) scale(0.975,1.09)">u</text><text transform="translate(233.52,561) scale(1.025,1.09)">c</text><text transform="translate(240.18,561) scale(0.974,1.09)">h</text><text transform="translate(248.05,561) scale(0.999,1.09)">t</text><text transform="translate(252.51,561) scale(1.035,1.09)">e</text><text transform="translate(261.70,561) scale(0.994,1.09)">A</text><text transform="translate(270.19,561) scale(0.999,1.09)">.</text></g>
<g fill="#000000" font-weight="bold"><text transform="translate(307.73,561) scale(0.895,1.09)">%</text></g>
<g fill="#000000" font-weight="bold"><text transform="translate(330.23,561) scale(0.965,1.09)">L</text><text transform="translate(337.27,561) scale(0.975,1.09)">u</text><text transform="translate(344.91,561) scale(0.965,1.09)">f</text><text transform="translate(349.08,561) scale(0.965,1.09)">t</text><text transform="translate(353.51,561) scale(0.992,1.09)">d</text><text transform="translate(360.19,561) scale(0.965,1.09)">r</text><text transform="translate(365.27,561) scale(0.975,1.09)">u</text><text transform="translate(371.52,561) scale(1.025,1.09)">c</text><text transform="translate(378.19,561) scale(0.965,1.09)">k</text></g>
<g fill="#000000" font-weight="bold"><text transform="translate(412.18,561) scale(0.974,1.09)">h</text><text transform="translate(420.19,561) scale(1.009,1.09)">P</text><text transform="translate(428.62,561) scale(1.094,1.09)">a</text></g>
<g fill="#000000"><text transform="translate(330.95,609) scale(0.907,1.09)">^</text></g>
<g fill="#000000"><text transform="translate(351.17,609) scale(1.000,1.09)">h</text><text transform="translate(358.07,609) scale(0.944,1.09)">P</text><text transform="translate(365.50,609) scale(0.973,1.09)">a</text><text transform="translate(372.00,609) scale(0.944,1.09)">/</text><text transform="translate(375.17,609) scale(1.000,1.09)">h</text></g>
<g fill="#000000" font-weight="bold"><text transform="translate(447.99,561) scale(0.973,1.09)">W</text><text transform="translate(459.15,561) scale(1.010,1.09)">i</text><text transform="translate(462.18,561) scale(0.974,1.09)">n</text><text transform="translate(469.51,561) scale(0.992,1.09)">d</text></g>
<g fill="#000000" font-weight="bold"><text transform="translate(523.12,561) scale(1.046,1.09)">k</text><text transform="translate(530.10,561) scale(1.073,1.09)">m</text><text transform="translate(541.89,561) scale(0.968,1.09)">/</text><text transform="translate(545.18,561) scale(0.974,1.09)">h</text></g>
<g fill="#000000"><text transform="translate(448.71,577) scale(0.705,1.09)">Ø</text></g>
<g fill="#000000"><text transform="translate(474.32,577) scale(0.819,1.09)">m</text><text transform="translate(482.37,577) scale(0.785,1.09)">i</text><text transform="translate(484.38,577) scale(0.750,1.09)">n</text><text transform="translate(490.14,577) scale(0.785,1.09)">.</text></g>
<g fill="#000000"><text transform="translate(472.29,609) scale(0.875,1.09)">k</text><text transform="translate(478.32,609) scale(0.819,1.09)">m</text></g>
<g fill="#000000" font-weight="bold"><text transform="translate(565.20,561) scale(0.994,1.09)">R</text><text transform="translate(574.17,561) scale(0.994,1.09)">i</text><text transform="translate(577.52,561) scale(1.025,1.09)">c</text><text transform="translate(584.18,561) scale(0.974,1.09)">h</text><text transform="translate(591.06,561) scale(0.994,1.09)">t</text><text transform="translate(595.27,561) scale(0.975,1.09)">u</text><text transform="translate(602.18,561) scale(0.974,1.09)">n</text><text transform="translate(609.51,561) scale(0.994,1.09)">g</text></g>
<g fill="#000000" font-weight="bold"><text transform="translate(683.18,561) scale(1.025,1.09)">R</text><text transform="translate(692.51,561) scale(1.035,1.09)">e</text><text transform="translate(699.51,561) scale(0.994,1.09)">g</text><text transform="translate(706.51,561) scale(1.035,1.09)">e</text><text transform="translate(713.18,561) scale(0.974,1.09)">n</text></g>
<g fill="#000000" font-weight="bold"><text transform="translate(766.12,561) scale(1.045,1.09)">l</text><text transform="translate(769.89,561) scale(0.968,1.09)">/</text><text transform="translate(773.10,561) scale(1.073,1.09)">m</text><text transform="translate(784.65,561) scale(1.161,1.09)">²</text></g>
<g fill="#000000"><text transform="translate(683.46,609) scale(0.894,1.09)">G</text><text transform="translate(691.55,609) scale(0.888,1.09)">e</text><text transform="translate(697.74,609) scale(0.764,1.09)">s</text><text transform="translate(702.59,609) scale(0.811,1.09)">a</text><text transform="translate(708.32,609) scale(0.819,1.09)">m</text><text transform="translate(716.22,609) scale(0.858,1.09)">t</text><text transform="translate(719.06,609) scale(0.858,1.09)">:</text></g>
<g fill="#000000" font-weight="bold"><text transform="translate(919.17,561) scale(1.035,1.09)">P</text><text transform="translate(928.18,561) scale(1.021,1.09)">M</text><text transform="translate(938.92,561) scale(1.020,1.09)">V</text><text transform="translate(949.50,561) scale(1.051,1.09)">0</text><text transform="translate(956.81,561) scale(1.035,1.09)">:</text><text transform="translate(960.45,561) scale(1.066,1.09)">7</text></g>
<g fill="#000000"><text transform="translate(931.52,577) scale(0.790,1.09)">C</text></g>
<g fill="#000000"><text transform="translate(959.42,577) scale(0.810,1.09)">°</text><text transform="translate(963.52,577) scale(0.790,1.09)">C</text></g>
<g fill="#000000"><text transform="translate(920.18,593) scale(0.906,1.09)">T</text><text transform="translate(927.11,593) scale(0.906,1.09)">P</text></g>
<g fill="#000000"><text transform="translate(955.42,593) scale(0.810,1.09)">°</text><text transform="translate(959.52,593) scale(0.790,1.09)">C</text></g>
<g fill="#000000"><text transform="translate(935.17,609) scale(1.000,1.09)">h</text><text transform="translate(942.09,609) scale(0.928,1.09)">P</text><text transform="translate(949.59,609) scale(0.811,1.09)">a</text><text transform="translate(955.00,609) scale(0.928,1.09)">/</text></g>
<g fill="#000000"><text transform="translate(965.17,609) scale(1.000,1.09)">h</text></g>
</g>
<g filter="url(#t2)"><g fill="#000" font-size="16" stroke="#fff" stroke-width="0.5"><text transform="translate(428.69,21) scale(0.998,1.06)">D</text><text transform="translate(440.38,21) scale(0.927,1.06)">o</text><text transform="translate(448.96,21) scale(0.937,1.06)">n</text><text transform="translate(457.96,21) scale(0.937,1.06)">n</text><text transform="translate(466.28,21) scale(1.066,1.06)">e</text><text transform="translate(475.89,21) scale(0.998,1.06)">r</text><text transform="translate(481.55,21) scale(1.003,1.06)">s</text><text transform="translate(489.78,21) scale(0.998,1.06)">t</text><text transform="translate(494.34,21) scale(0.973,1.06)">a</text><text transform="translate(503.35,21) scale(0.973,1.06)">g</text><text transform="translate(511.56,21) scale(0.998,1.06)">,</text><text transform="translate(520.23,21) scale(0.960,1.06)">2</text><text transform="translate(528.98,21) scale(0.998,1.06)">1</text><text transform="translate(537.54,21) scale(0.998,1.06)">.</text><text transform="translate(542.43,21) scale(0.915,1.06)">0</text><text transform="translate(551.41,21) scale(0.923,1.06)">5</text><text transform="translate(559.54,21) scale(0.998,1.06)">.</text><text transform="translate(564.23,21) scale(0.960,1.06)">2</text><text transform="translate(573.35,21) scale(1.046,1.06)">0</text><text transform="translate(581.98,21) scale(0.998,1.06)">1</text><text transform="translate(591.41,21) scale(0.923,1.06)">5</text></g></g>
</svg>
</body></html>
